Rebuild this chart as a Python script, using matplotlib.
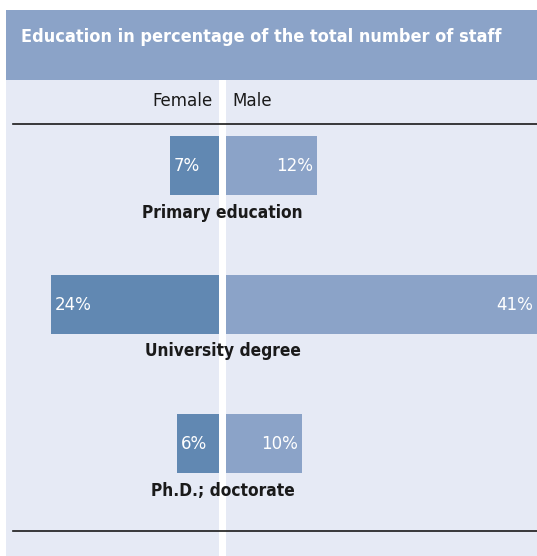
import matplotlib
matplotlib.use("Agg")
import matplotlib.pyplot as plt
from matplotlib.patches import Rectangle

# dados
categorias = ["Primary education", "University degree", "Ph.D.; doctorate"]
female = [7, 24, 6]
male = [12, 41, 10]
titulo = "Education in percentage of the total number of staff"

# cores
cor_header = "#8ba3c8"
cor_painel = "#e6eaf5"
cor_female = "#6188b2"
cor_male = "#8ba3c8"

plt.rcParams['font.family'] = ['DejaVu Sans']
plt.rcParams['font.stretch'] = 'condensed'

W, H = 537, 556
fig = plt.figure(figsize=(W / 100, H / 100), dpi=100)
fig.patch.set_facecolor("white")

# eixo de fundo em pixels
bg = fig.add_axes([0, 0, 1, 1])
bg.set_xlim(0, W)
bg.set_ylim(H, 0)
bg.axis('off')

bg.add_patch(Rectangle((6, 10), W - 6, 70, color=cor_header, lw=0))
bg.add_patch(Rectangle((6, 80), W - 6, H - 80, color=cor_painel, lw=0))
bg.add_patch(Rectangle((219, 80), 7, H - 80, color="white", lw=0))
bg.text(21, 37, titulo, color="white", fontsize=13, fontweight="bold",
        va="center", ha="left")
bg.text(213, 101, "Female", fontsize=13.3, ha="right", va="center", color="#1a1a1a")
bg.text(232, 101, "Male", fontsize=13.3, ha="left", va="center", color="#1a1a1a")
bg.plot([13, W], [124, 124], color="#1a1a1a", lw=1.2)
bg.plot([13, W], [531, 531], color="#1a1a1a", lw=1.2)

# eixos das barras
passo = 139
topo = 165.5 - passo / 2
altura = passo * 3
base = H - (topo + altura)
ax_f = fig.add_axes([6 / W, base / H, 213 / W, altura / H])
ax_m = fig.add_axes([226 / W, base / H, 311 / W, altura / H])

pos = list(range(len(categorias)))
ax_f.barh(pos, female, height=59 / passo, color=cor_female)
ax_m.barh(pos, male, height=59 / passo, color=cor_male)

ax_f.set_xlim(30.4, 0)
ax_m.set_xlim(0, 41)
for ax in (ax_f, ax_m):
    ax.set_ylim(2.5, -0.5)
    ax.axis('off')
    ax.patch.set_alpha(0)

for i, v in enumerate(female):
    ax_f.annotate(f"{v}%", (v, i), xytext=(3, 0), textcoords="offset points",
                  ha="left", va="center", color="white", fontsize=13.3,
                  annotation_clip=False)
for i, v in enumerate(male):
    ax_m.annotate(f"{v}%", (v, i), xytext=(-3, 0), textcoords="offset points",
                  ha="right", va="center", color="white", fontsize=13.3,
                  annotation_clip=False)

for i, c in enumerate(categorias):
    bg.text(222.5, 165.5 + passo * i + 47, c, ha="center", va="center",
            fontsize=12.4, fontweight="bold", color="#1a1a1a", zorder=5)

fig.savefig("out.png", dpi=100)
